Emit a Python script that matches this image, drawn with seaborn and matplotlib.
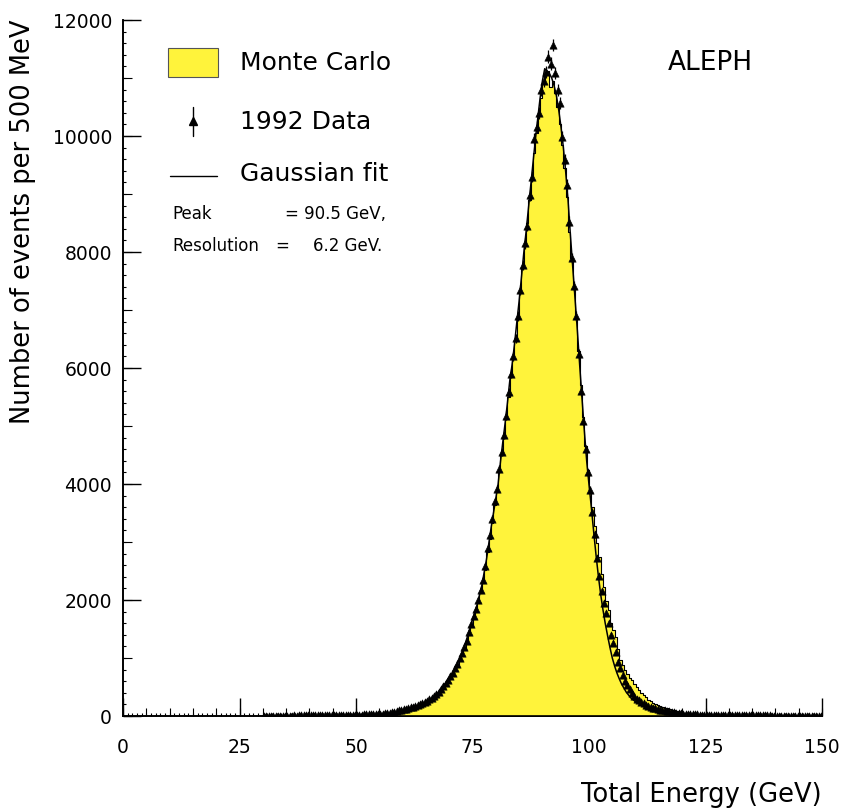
import numpy as np
import pandas as pd
import matplotlib
matplotlib.use("Agg")
import matplotlib.pyplot as plt
from matplotlib.patches import Rectangle
from matplotlib.lines import Line2D
from matplotlib.ticker import MultipleLocator
import seaborn as sns

# ---------------------------------------------------------------------------
# Histogram contents, 500 MeV bins
# ---------------------------------------------------------------------------
BIN_WIDTH = 0.5

# 1992 data, bins starting at 30 GeV
DATA_START = 30.0
data_counts = [
    4, 3, 5, 4, 6, 5, 5, 7, 6, 6,                              # 30-35
    7, 8, 7, 9, 8, 9, 10, 9, 11, 10,                           # 35-40
    11, 12, 11, 13, 12, 14, 13, 15, 14, 16,                    # 40-45
    15, 17, 16, 18, 19, 18, 20, 21, 22, 23,                    # 45-50
    24, 23, 25, 26, 27, 28, 29, 31, 32, 35,                    # 50-55
    38, 42, 45, 50, 56, 62, 70, 80, 95, 105,                   # 55-60
    115, 125, 138, 150, 162, 175, 190, 205, 222, 240,          # 60-65
    262, 285, 310, 340, 375, 415, 460, 520, 570, 625,          # 65-70
    690, 750, 825, 905, 1000, 1090, 1190, 1300, 1440, 1580,    # 70-75
    1720, 1850, 2000, 2170, 2350, 2580, 2890, 3120, 3400, 3700,  # 75-80
    3920, 4260, 4550, 4850, 5180, 5580, 5900, 6200, 6510, 6900,  # 80-85
    7350, 7780, 8150, 8450, 8980, 9300, 9950, 10150, 10400, 10790,  # 85-90
    10950, 11110, 11370, 11250, 11570, 11080, 10790, 10570, 9990, 9590,  # 90-95
    9155, 8520, 7900, 7420, 6900, 6250, 5600, 5080, 4600, 4200,  # 95-100
    3900, 3520, 3130, 2720, 2420, 2150, 1950, 1770, 1600, 1400,  # 100-105
    1260, 1100, 930, 820, 700, 610, 540, 460, 400, 345,        # 105-110
    300, 270, 245, 220, 195, 172, 158, 145, 132, 120,          # 110-115
    110, 102, 95, 86, 78, 70, 62, 56, 50, 45,                  # 115-120
    40, 37, 34, 32, 30, 28, 27, 25, 24, 23,                    # 120-125
    22, 21, 20, 19, 18, 18, 17, 16, 16, 15,                    # 125-130
    15, 14, 14, 13, 13, 12, 12, 12, 11, 11,                    # 130-135
    11, 10, 10, 10, 9, 9, 9, 9, 8, 8,                          # 135-140
    8, 8, 8, 7, 7, 7, 7, 7, 6, 6,                              # 140-145
    6, 6, 6, 6, 5, 5, 5, 5, 5, 5,                              # 145-150
]

# Monte Carlo, bins starting at 50 GeV
MC_START = 50.0
mc_counts = [
    10, 12, 13, 15, 17, 19, 21, 24, 27, 30,                    # 50-55
    34, 38, 42, 47, 53, 59, 66, 75, 85, 96,                    # 55-60
    106, 117, 128, 140, 152, 165, 180, 195, 212, 230,          # 60-65
    250, 272, 297, 325, 358, 396, 440, 495, 548, 600,          # 65-70
    660, 725, 795, 875, 965, 1060, 1160, 1270, 1400, 1540,     # 70-75
    1680, 1820, 1960, 2120, 2300, 2520, 2820, 3060, 3330, 3640,  # 75-80
    3880, 4200, 4500, 4800, 5120, 5500, 5850, 6150, 6480, 6850,  # 80-85
    7300, 7750, 8150, 8500, 8900, 9300, 9700, 10050, 10350, 10650,  # 85-90
    10900, 11050, 11120, 10850, 10950, 10750, 10500, 10200, 9850, 9450,  # 90-95
    8950, 8350, 7900, 7400, 6900, 6300, 5700, 5150, 4650, 4250,  # 95-100
    3900, 3600, 3270, 2980, 2750, 2450, 2230, 1980, 1830, 1600,  # 100-105
    1480, 1370, 1150, 970, 880, 790, 720, 660, 620, 560,       # 105-110
    500, 450, 400, 360, 320, 280, 255, 230, 210, 190,          # 110-115
    175, 160, 145, 130, 118, 105, 95, 85, 76, 68,              # 115-120
    60, 52, 45, 38, 32, 27, 22, 19, 17, 15,                    # 120-125
    14, 12, 11, 10, 9, 8, 8, 7, 6, 6,                          # 125-130
    5, 5, 4, 4, 4, 3, 3, 3, 2, 2,                              # 130-135
]

# Fitted curve
fit_energy = [
    30, 35, 40, 45, 50, 55, 58, 60, 62, 64, 66,
    67, 68, 69, 70, 71, 72, 73, 74, 75, 76, 77, 78, 79, 80,
    80.5, 81, 81.5, 82, 82.5, 83, 83.5, 84, 84.5, 85,
    85.5, 86, 86.5, 87, 87.5, 88, 88.5, 89, 89.5, 90,
    90.5, 91, 91.5, 92, 92.5, 93, 93.5, 94, 94.5, 95,
    95.5, 96, 96.5, 97, 97.5, 98, 98.5, 99, 99.5, 100,
    100.5, 101, 101.5, 102, 102.5, 103, 103.5, 104, 104.5, 105,
    105.5, 106, 106.5, 107,
    108, 109, 110, 111, 112, 113, 114,
    116, 118, 120, 125, 130, 140, 150,
]
fit_counts = [
    2, 4, 6, 10, 18, 36, 60, 98, 148, 205, 295,
    355, 440, 545, 660, 790, 950, 1140, 1390, 1660, 1920, 2250, 2700, 3250, 3750,
    4000, 4380, 4720, 5050, 5400, 5780, 6060, 6400, 6780, 7150,
    7560, 7980, 8350, 8750, 9150, 9550, 9950, 10300, 10650, 10950,
    11160, 11120, 11080, 11000, 10870, 10700, 10450, 10150, 9800, 9380,
    8900, 8300, 7750, 7200, 6650, 6050, 5480, 4920, 4400, 3990,
    3600, 3180, 2780, 2420, 2100, 1830, 1590, 1380, 1180, 1000,
    860, 740, 640, 550,
    410, 310, 245, 215, 180, 150, 125,
    90, 62, 42, 18, 8, 3, 1,
]

x_ticks = [0, 25, 50, 75, 100, 125, 150]
y_ticks = [0, 2000, 4000, 6000, 8000, 10000, 12000]

MC_YELLOW = "#fff33b"

sns.set_theme(style="ticks")
plt.rcParams["font.family"] = ["DejaVu Sans"]
plt.rcParams.update({
    "text.color": "black",
    "axes.labelcolor": "black",
    "xtick.color": "black",
    "ytick.color": "black",
    "axes.edgecolor": "black",
})

W, H = 843, 810
fig = plt.figure(figsize=(W / 100, H / 100), dpi=100)
ax = fig.add_axes([123 / W, 1 - 716 / H, 699 / W, 696 / H])


def fx(px):
    return px / W


def fy(py):
    return 1 - py / H


# Monte Carlo histogram
mc_end = MC_START + BIN_WIDTH * len(mc_counts)
mc_frame = pd.DataFrame({
    "energy": MC_START + BIN_WIDTH * (np.arange(len(mc_counts)) + 0.5),
    "events": np.asarray(mc_counts, dtype=float),
})
sns.histplot(data=mc_frame, x="energy", weights="events",
             binwidth=BIN_WIDTH, binrange=(MC_START, mc_end),
             element="step", fill=True, color=MC_YELLOW, edgecolor="black",
             linewidth=0.8, alpha=1.0, ax=ax, zorder=2)

# Data points with statistical errors
d = np.asarray(data_counts, dtype=float)
d_centers = DATA_START + BIN_WIDTH * (np.arange(len(d)) + 0.5)
ax.errorbar(d_centers, d, yerr=np.sqrt(d), fmt="none", ecolor="black",
            elinewidth=0.9, capsize=0, zorder=3)
sns.scatterplot(x=d_centers, y=d, marker="^", s=28, color="black",
                edgecolor="black", linewidth=0.4, ax=ax, zorder=4)

# Fit curve
sns.lineplot(x=fit_energy, y=fit_counts, color="black", linewidth=1.1,
             sort=False, estimator=None, ax=ax, zorder=5)

# Axes styling
ax.set_xlim(0, 150)
ax.set_ylim(0, 12000)
ax.set_xticks(x_ticks)
ax.set_yticks(y_ticks)
ax.xaxis.set_minor_locator(MultipleLocator(1))
ax.yaxis.set_minor_locator(MultipleLocator(200))
for side in ("top", "right"):
    ax.spines[side].set_visible(False)
for side in ("left", "bottom"):
    ax.spines[side].set_linewidth(1.2)
    ax.spines[side].set_color("black")
ax.tick_params(which="major", direction="in", length=13, width=1.0,
               color="black", labelsize=13.5, labelcolor="black")
ax.tick_params(axis="x", which="major", pad=16)
ax.tick_params(axis="y", which="major", pad=8)
ax.tick_params(which="minor", direction="in", length=2.5, width=0.8, color="black")

sec_x = ax.secondary_xaxis("bottom")
sec_x.set_xticks(np.arange(0, 151, 5))
sec_x.tick_params(direction="in", length=5.5, width=0.8, labelbottom=False, color="black")
sec_x.spines["bottom"].set_linewidth(1.2)

sec_y = ax.secondary_yaxis("left")
sec_y.set_yticks(np.arange(0, 12001, 1000))
sec_y.tick_params(direction="in", length=6.5, width=0.8, labelleft=False, color="black")
sec_y.spines["left"].set_linewidth(1.2)

ax.set_xlabel("Total Energy (GeV)", loc="right", fontsize=18.5, labelpad=18,
              color="black")
ax.set_ylabel("Number of events per 500 MeV", loc="top", fontsize=18.5,
              labelpad=12, color="black")

# Key
fig.add_artist(Rectangle((fx(168), fy(77)), fx(218) - fx(168), fy(48) - fy(77),
                         transform=fig.transFigure, facecolor=MC_YELLOW,
                         edgecolor="#555555", linewidth=0.8))
fig.text(fx(240), fy(63), "Monte Carlo", fontsize=18, va="center", ha="left")

fig.add_artist(Line2D([fx(193), fx(193)], [fy(136), fy(107)],
                      transform=fig.transFigure, color="black", linewidth=1.0))
fig.add_artist(Line2D([fx(193)], [fy(121)], transform=fig.transFigure,
                      marker="^", markersize=5.5, color="black", linestyle="none"))
fig.text(fx(240), fy(122), "1992 Data", fontsize=18, va="center", ha="left")

fig.add_artist(Line2D([fx(170), fx(217)], [fy(176), fy(176)],
                      transform=fig.transFigure, color="black", linewidth=1.0))
fig.text(fx(240), fy(174), "Gaussian fit", fontsize=18, va="center", ha="left")

fig.text(fx(172), fy(214), "Peak", fontsize=12, va="center", ha="left")
fig.text(fx(285), fy(214), "= 90.5 GeV,", fontsize=12, va="center", ha="left")
fig.text(fx(172), fy(246), "Resolution", fontsize=12, va="center", ha="left")
fig.text(fx(275), fy(246), "=", fontsize=12, va="center", ha="left")
fig.text(fx(313), fy(246), "6.2 GeV.", fontsize=12, va="center", ha="left")

fig.text(fx(668), fy(63), "ALEPH", fontsize=19, va="center", ha="left")

fig.savefig("out.png", dpi=100)
